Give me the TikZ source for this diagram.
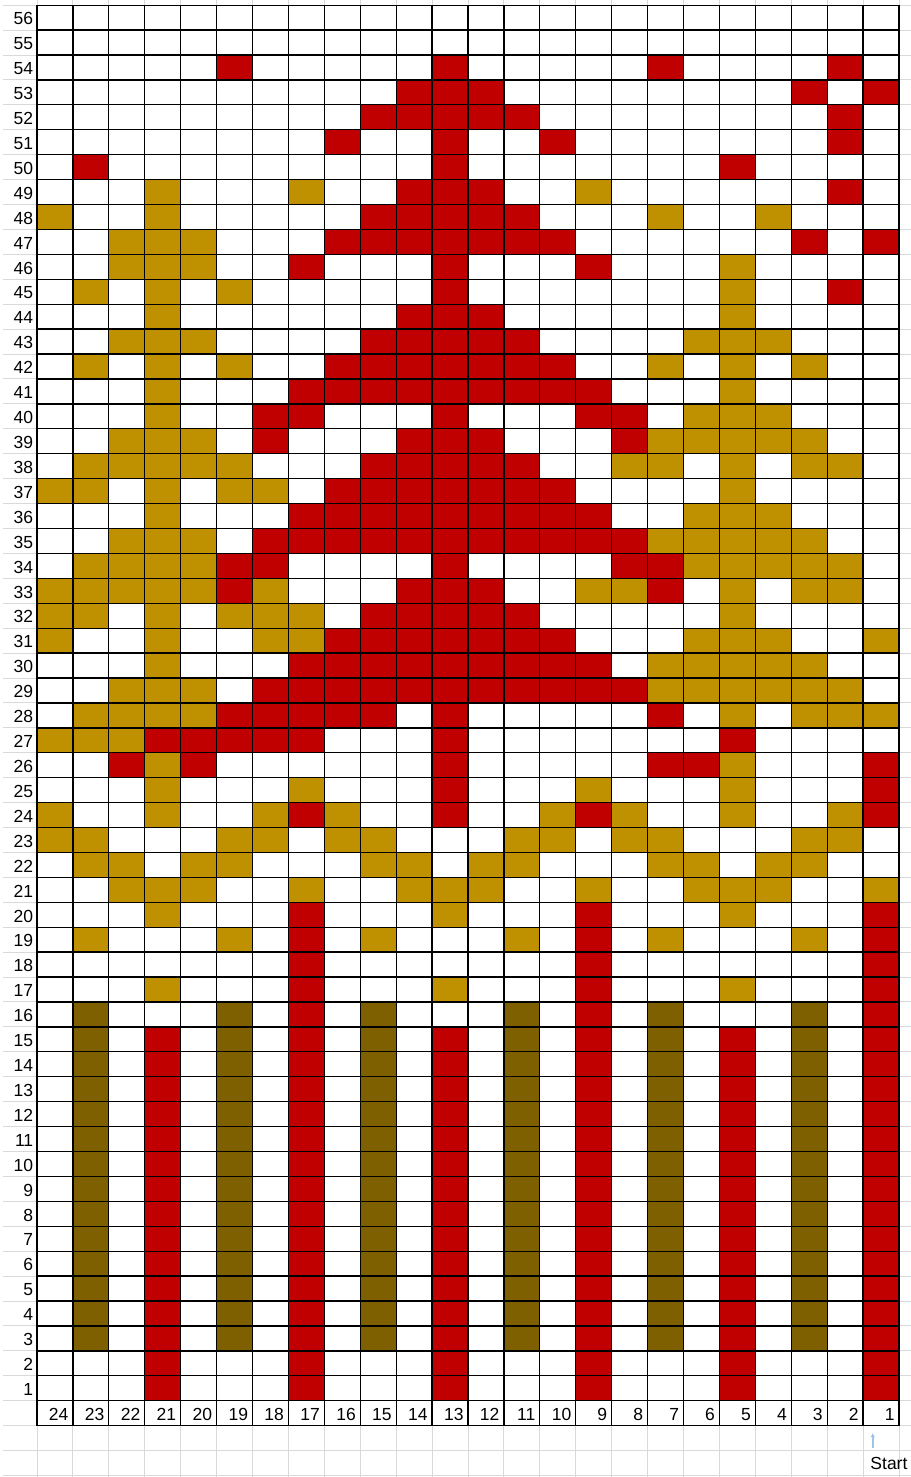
\documentclass[tikz,border=0pt]{standalone}
\usepackage{fontspec}
\setmainfont{Liberation Sans}
\usepackage{xcolor}
\usetikzlibrary{arrows.meta}

\definecolor{stitchred}{HTML}{C00000}
\definecolor{stitchgold}{HTML}{BF9000}
\definecolor{stitchbrown}{HTML}{7F6000}
\definecolor{startblue}{HTML}{9DC3E6}

\begin{document}
\begin{tikzpicture}[
    x=35.917pt, y=24.92pt,
    font=\fontsize{17.5}{20}\selectfont,
    redst/.style={fill=stitchred},
    goldst/.style={fill=stitchgold},
    brownst/.style={fill=stitchbrown},
    chartline/.style={draw=black, line width=1.3pt},
    sheetline/.style={draw=black!15, line width=1pt},
    lbl/.style={inner sep=0pt, anchor=east},
    startarrow/.style={-{Latex[length=4pt,width=4.5pt]}, line width=1.6pt, draw=startblue}
]

\useasboundingbox (-1.0302,-3.062) rectangle (24.334,56.208);
\fill[white] (-1.0302,-3.062) rectangle (24.334,56.208);

% Spreadsheet lines round the chart
\foreach \y in {-3,...,56} {
    \draw[sheetline] (-0.95,\y) -- (0,\y);
    \draw[sheetline] (24,\y) -- (24.4,\y);
}
\foreach \x in {0,...,24} {
    \draw[sheetline] (\x,56) -- (\x,56.3);
    \draw[sheetline] (\x,-1) -- (\x,-3.1);
}
\foreach \y in {-2,-3}
    \draw[sheetline] (0,\y) -- (24.4,\y);

% Ribbing (rows 1-20)
\foreach \c in {21,13,5}
    \fill[redst] (24-\c,0) rectangle (25-\c,15);
\foreach \c in {17,9,1}
    \fill[redst] (24-\c,0) rectangle (25-\c,20);
\foreach \c in {23,19,15,11,7,3}
    \fill[brownst] (24-\c,2) rectangle (25-\c,16);

% Red stitches
\foreach \r/\cols in {
    54/{19,13,7,2}, 53/{14,13,12,3,1}, 52/{15,14,13,12,11,2},
    51/{16,13,10,2}, 50/{23,13,5}, 49/{14,13,12,2},
    48/{11,...,15}, 47/{10,...,16,3,1}, 46/{17,13,9},
    45/{13,2}, 44/{14,13,12}, 43/{11,...,15},
    42/{10,...,16}, 41/{9,...,17}, 40/{18,17,13,9,8},
    39/{18,14,13,12,8}, 38/{11,...,15}, 37/{10,...,16},
    36/{9,...,17}, 35/{8,...,18}, 34/{19,18,13,8,7},
    33/{19,14,13,12,7}, 32/{11,...,15}, 31/{10,...,16},
    30/{9,...,17}, 29/{8,...,18}, 28/{15,...,19,13,7,...,11},
    27/{17,...,21,13,5,...,9}, 26/{22,20,13,7,6,1}, 25/{13,1},
    24/{17,13,9,1}}
    \foreach \c in \cols
        \fill[redst] (24-\c,\r-1) rectangle (25-\c,\r);

% Gold stitches
\foreach \r/\cols in {
    49/{21,17,9}, 48/{24,21,7,4}, 47/{22,21,20},
    46/{22,21,20,5}, 45/{23,21,19,5}, 44/{21,5},
    43/{22,21,20,6,5,4}, 42/{23,21,19,7,5,3}, 41/{21,5},
    40/{21,6,5,4}, 39/{22,21,20,7,6,5,4,3},
    38/{23,22,21,20,19,8,7,5,3,2}, 37/{24,23,21,19,18,5},
    36/{21,6,5,4}, 35/{22,21,20,7,6,5,4,3},
    34/{23,22,21,20,6,5,4,3,2}, 33/{24,23,22,21,20,18,9,8,5,3,2},
    32/{24,23,21,19,18,17,5}, 31/{24,21,18,17,6,5,4,1},
    30/{21,7,6,5,4,3}, 29/{22,21,20,7,6,5,4,3,2},
    28/{23,22,21,20,5,3,2,1}, 27/{24,23,22}, 26/{21,5},
    25/{21,17,9,5}, 24/{24,21,18,16,10,8,5,2},
    23/{24,23,19,18,16,15,11,10,8,7,3,2},
    22/{23,22,20,19,15,14,12,11,7,6,4,3},
    21/{22,21,20,17,14,13,12,9,6,5,4,1},
    20/{21,13,5}, 19/{23,19,15,11,7,3}, 17/{21,13,5}}
    \foreach \c in \cols
        \fill[goldst] (24-\c,\r-1) rectangle (25-\c,\r);

% Chart grid and number row
\foreach \x in {0,...,24}
    \draw[chartline] (\x,-1) -- (\x,56);
\foreach \y in {-1,...,56}
    \draw[chartline] (0,\y) -- (24,\y);

% Row and column numbers
\foreach \r in {1,...,56}
    \node[lbl] (row\r) at (-0.1,\r-0.55) {\r};
\foreach \c in {1,...,24}
    \node[lbl] (col\c) at (24.88-\c,-0.55) {\c};

% Start
\node[inner sep=0pt, anchor=west] (start) at (23.2,-2.52) {Start};
\coordinate (starttip) at (23.27,-1.3);
\draw[startarrow, shorten <=9pt] (start.north west -| starttip) -- (starttip);

\end{tikzpicture}
\end{document}
